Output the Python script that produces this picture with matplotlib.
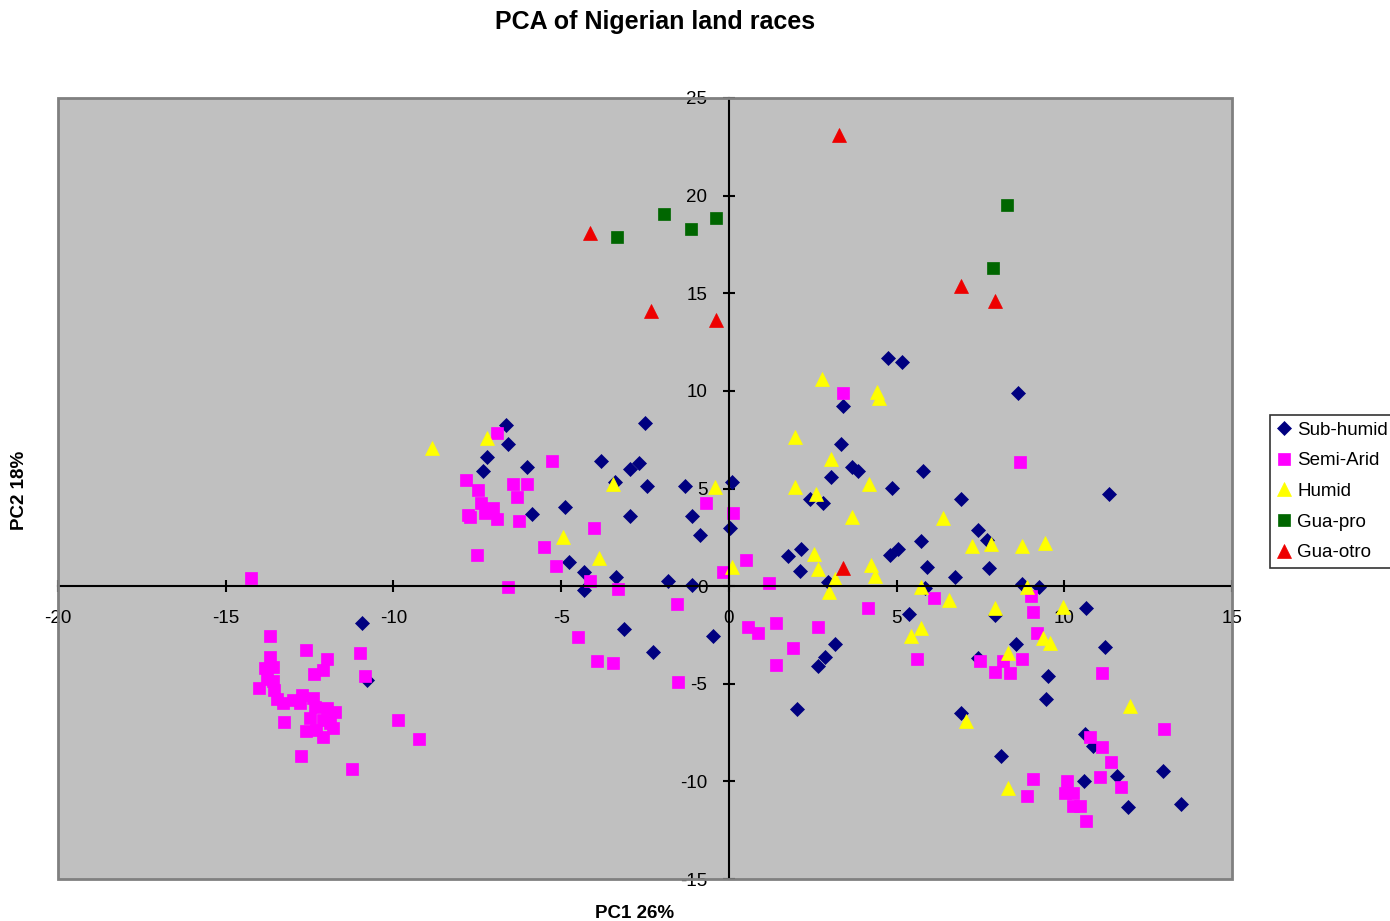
import numpy as np
import matplotlib.pyplot as plt
from matplotlib.patches import Rectangle

plt.rcParams["font.family"] = ["Liberation Sans", "DejaVu Sans"]
plt.rcParams["axes.unicode_minus"] = False

################################################
## Scores on PC1 / PC2 for each group of land races

sub_humid_pc1 = [
    -6.65, -6.59, -7.22, -7.33, -6.02, -5.87, -4.89, -3.82, -2.50, -2.95,
    -2.68, -3.40, -2.44, -2.95, -1.31, -1.10, -0.86, 0.09, 0.03, -4.77,
    -4.32, -4.32, -3.37, -1.82, -1.10, -10.94, -10.79, -3.13, -2.27, -0.48,
    2.03, 3.16, 2.86, 2.65, 4.74, 5.16, 8.62, 3.40, 3.34, 3.67,
    3.85, 3.04, 5.78, 4.86, 6.92, 2.41, 2.80, 7.42, 7.69, 5.72,
    5.04, 4.80, 1.76, 2.15, 2.12, 5.90, 6.74, 7.75, 2.95, 8.74,
    9.24, 5.84, 5.37, 7.93, 10.64, 8.56, 11.21, 7.42, 9.51, 9.45,
    6.92, 10.61, 10.85, 8.11, 10.58, 11.57, 11.90, 12.94, 13.48, 11.33,
]
sub_humid_pc2 = [
    8.24, 7.27, 6.61, 5.89, 6.09, 3.69, 4.05, 6.40, 8.35, 5.99,
    6.30, 5.33, 5.12, 3.58, 5.12, 3.58, 2.61, 5.33, 2.97, 1.23,
    0.72, -0.20, 0.46, 0.26, 0.05, -1.89, -4.81, -2.20, -3.38, -2.56,
    -6.30, -2.97, -3.64, -4.10, 11.67, 11.47, 9.88, 9.22, 7.27, 6.09,
    5.89, 5.58, 5.89, 5.02, 4.45, 4.45, 4.25, 2.87, 2.36, 2.30,
    1.89, 1.59, 1.54, 1.89, 0.77, 0.97, 0.46, 0.92, 0.20, 0.10,
    -0.05, -0.10, -1.43, -1.48, -1.13, -2.97, -3.12, -3.69, -4.61, -5.79,
    -6.50, -7.58, -8.19, -8.70, -9.98, -9.73, -11.32, -9.47, -11.16, 4.71,
]

semi_arid_pc1 = [
    -14.25, -13.68, -12.61, -11.99, -12.10, -12.37, -13.68, -13.60, -13.83, -13.77,
    -13.60, -14.01, -13.57, -13.48, -13.30, -13.00, -12.73, -12.79, -12.40, -12.34,
    -11.99, -11.75, -12.49, -12.10, -11.90, -12.61, -12.31, -11.81, -12.10, -13.27,
    -12.76, -11.24, -11.00, -10.85, -9.87, -9.24,
    -6.92, -5.28, -7.84, -7.48, -7.39, -7.04, -7.78, -7.72, -7.27, -6.92,
    -6.44, -6.02, -6.32, -6.26, -4.02, -5.52, -5.16, -7.51, -6.59, -4.14,
    -3.31, -1.55, -0.69, 0.12, -0.18, -4.50, -3.94, -3.46, -1.52,
    3.40, 8.68, 0.51, 1.19, 4.14, 6.11, 1.40, 0.57, 0.86, 2.65,
    1.91, 1.40, 5.60, 9.00, 9.06, 9.18, 7.48, 8.17, 8.74, 7.93,
    8.38, 11.12, 10.76, 11.12, 11.39, 11.06, 11.69, 12.97, 9.06, 8.88,
    10.08, 10.02, 10.26, 10.26, 10.46, 10.64,
]
semi_arid_pc2 = [
    0.41, -2.56, -3.28, -3.74, -4.30, -4.51, -3.64, -4.15, -4.20, -4.76,
    -4.86, -5.22, -5.33, -5.79, -5.99, -5.84, -5.58, -5.99, -5.73, -6.20,
    -6.25, -6.45, -6.76, -6.86, -7.01, -7.42, -7.37, -7.27, -7.73, -6.96,
    -8.70, -9.37, -3.43, -4.61, -6.86, -7.83,
    7.83, 6.40, 5.43, 4.92, 4.25, 3.99, 3.64, 3.53, 3.74, 3.43,
    5.22, 5.22, 4.56, 3.33, 2.97, 2.00, 1.02, 1.59, -0.05, 0.26,
    -0.15, -0.92, 4.25, 3.74, 0.72, -2.61, -3.84, -3.94, -4.92,
    9.88, 6.35, 1.33, 0.15, -1.13, -0.61, -1.89, -2.10, -2.41, -2.10,
    -3.17, -4.05, -3.74, -0.51, -1.33, -2.41, -3.84, -3.84, -3.74, -4.40,
    -4.45, -4.45, -7.73, -8.24, -9.01, -9.78, -10.29, -7.32, -9.88, -10.75,
    -9.98, -10.60, -10.60, -11.26, -11.26, -12.03,
]

humid_pc1 = [
    -8.85, -7.21, -3.46, -0.42, -4.95, -3.88, 0.09, 2.77, 4.41, 4.47,
    1.97, 3.04, 1.97, 4.17, 2.59, 3.67, 6.38, 2.53, 2.65, 4.23,
    4.35, 3.16, 2.98, 5.72, 6.56, 7.24, 7.81, 8.74, 9.42, 8.88,
    7.93, 9.96, 5.72, 5.43, 9.36, 9.57, 8.32, 7.07, 8.32, 11.96,
]
humid_pc2 = [
    7.07, 7.58, 5.22, 5.07, 2.51, 1.43, 0.97, 10.60, 9.93, 9.63,
    7.63, 6.50, 5.07, 5.22, 4.71, 3.53, 3.48, 1.64, 0.87, 1.08,
    0.51, 0.36, -0.31, -0.05, -0.72, 2.05, 2.15, 2.05, 2.20, -0.05,
    -1.13, -1.08, -2.15, -2.56, -2.66, -2.92, -3.43, -6.91, -10.34, -6.14,
]

gua_pro_pc1 = [-3.34, -1.94, -1.13, -0.39, 8.29, 7.87]
gua_pro_pc2 = [17.87, 19.05, 18.28, 18.84, 19.51, 16.28]

gua_otro_pc1 = [-4.14, 3.28, -2.33, -0.39, 6.92, 7.93, 3.40]
gua_otro_pc2 = [18.10, 23.10, 14.08, 13.62, 15.36, 14.59, 0.92]

fontsize = 13.5

################################################
## Figure

fig = plt.figure(figsize=(13.9, 9.21), dpi=100)
ax = fig.add_axes([58 / 1390, 1 - 879 / 921, 1174 / 1390, 781 / 921])
ax.set_facecolor("#C0C0C0")
ax.set_xlim(-20, 15)
ax.set_ylim(-15, 25)

# axes cross at the origin, plot area keeps a grey frame
for side in ["top", "right"]:
    ax.spines[side].set_visible(False)
ax.spines["left"].set_position(("data", 0))
ax.spines["bottom"].set_position(("data", 0))
ax.spines["left"].set_linewidth(1.5)
ax.spines["bottom"].set_linewidth(1.5)
ax.add_patch(
    Rectangle((0, 0), 1, 1, transform=ax.transAxes, fill=False,
              edgecolor="#808080", lw=2, zorder=5, clip_on=False)
)

ax.plot(sub_humid_pc1, sub_humid_pc2, "D", color="#000080", ms=7.2,
        mec="#000080", mew=0.5, label="Sub-humid")
ax.plot(semi_arid_pc1, semi_arid_pc2, "s", color="#FF00FF", ms=8.7,
        mec="#FF00FF", mew=0.5, label="Semi-Arid")
ax.plot(humid_pc1, humid_pc2, "^", color="#FFFF00", ms=10.2,
        mec="#FFFF00", mew=0.5, label="Humid")
ax.plot(gua_pro_pc1, gua_pro_pc2, "s", color="#006600", ms=8.7,
        mec="#006600", mew=0.5, label="Gua-pro")
ax.plot(gua_otro_pc1, gua_otro_pc2, "^", color="#EE0000", ms=10.2,
        mec="#EE0000", mew=0.5, label="Gua-otro")

ax.set_xticks(np.arange(-20, 16, 5))
ax.set_yticks(np.arange(-15, 26, 5))
ax.tick_params(direction="inout", length=9, width=1.5, labelsize=fontsize)
ax.tick_params(axis="x", pad=13)
ax.tick_params(axis="y", pad=11)

fig.text(655 / 1390, 1 - 22 / 921, "PCA of Nigerian land races",
         ha="center", va="center", fontsize=18, fontweight="bold")
fig.text(635 / 1390, 1 - 913 / 921, "PC1 26%",
         ha="center", va="center", fontsize=fontsize, fontweight="bold")
fig.text(20 / 1390, 1 - 490 / 921, "PC2 18%", rotation=90,
         ha="center", va="center", fontsize=fontsize, fontweight="bold")

leg = fig.legend(
    loc="upper left",
    bbox_to_anchor=(1270 / 1390, 1 - 415 / 921),
    fontsize=fontsize,
    frameon=True,
    fancybox=False,
    edgecolor="black",
    borderaxespad=0,
    borderpad=0.35,
    labelspacing=0.72,
    handlelength=0.8,
    handletextpad=0.3,
    markerscale=0.95,
)
leg.get_frame().set_linewidth(1.2)

plt.savefig("out.png", dpi=100)
plt.close("all")
